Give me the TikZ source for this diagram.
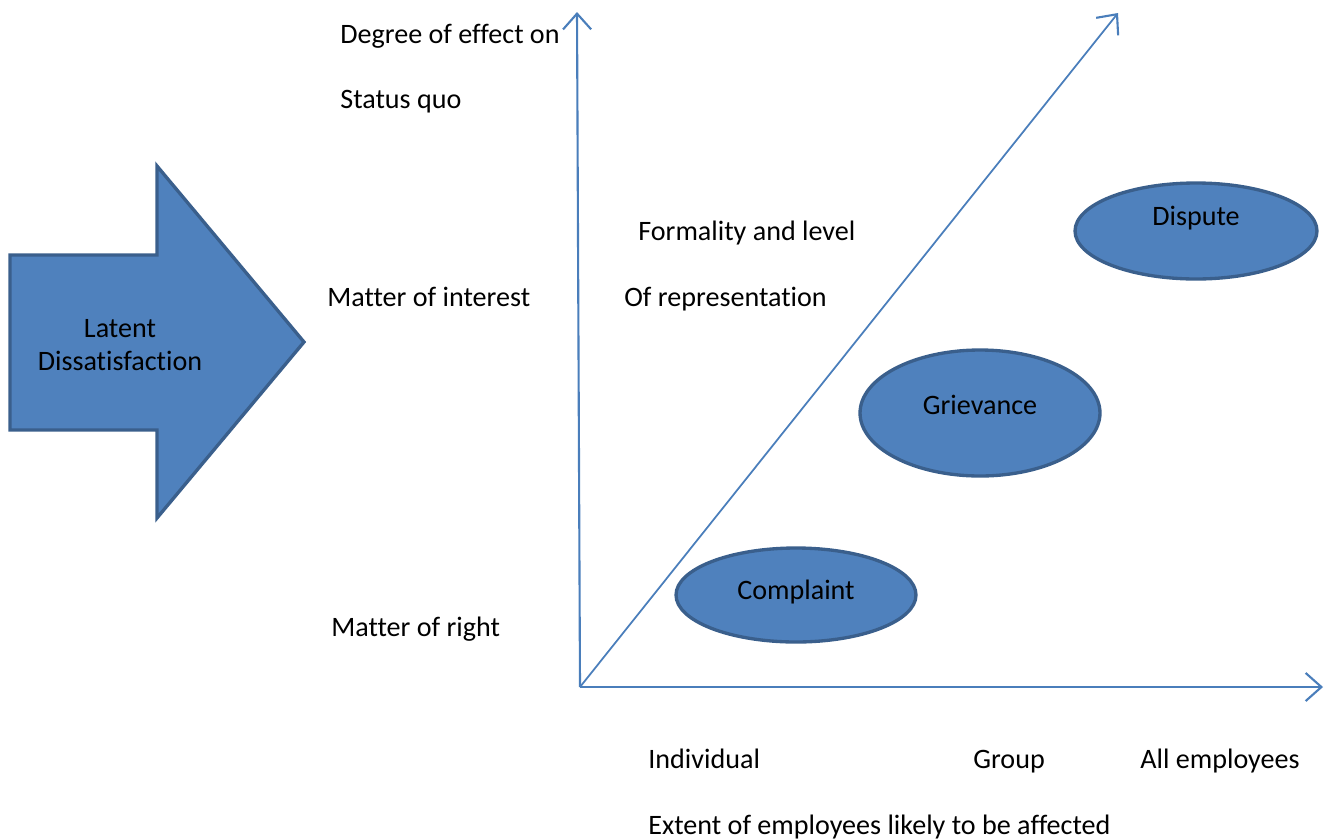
\documentclass[tikz,border=0pt]{standalone}
\usepackage{fontspec}
\setmainfont{Carlito}[Ligatures=NoCommon]
\usetikzlibrary{arrows.meta,shapes.geometric}

\definecolor{boxfill}{HTML}{4F81BD}
\definecolor{boxline}{HTML}{3A5F8C}
\definecolor{axisline}{HTML}{4A7EBB}

\tikzset{
	blob/.style={ellipse, draw=boxline, fill=boxfill, line width=1.9pt, inner sep=0pt},
	axis/.style={draw=axisline, line width=1.2pt, -{Straight Barb[length=9pt, width=16pt, line width=1.2pt]}},
	txt/.style={anchor=west, inner sep=0pt, text height=14.4pt, text depth=3.5pt,
		font=\fontsize{16}{19}\selectfont}
}

\begin{document}
\begin{tikzpicture}[x=0.02cm, y=-0.02cm]
	\useasboundingbox (0,0) rectangle (1325,839);
	
	% Draw big arrow
	\draw[boxline, fill=boxfill, line width=1.9pt, line join=miter]
		(10,255) -- (157,255) -- (157,166) -- (304,342) -- (157,518)
		-- (157,430) -- (10,430) -- cycle;
	\node[font=\fontsize{16}{19}\selectfont, align=center] (latent) at (120,345)
		{Latent\\Dissatisfaction};
	
	% Draw axes
	\coordinate (origin) at (580,687);
	\coordinate (ytop) at (577,12);
	\coordinate (xend) at (1323,687);
	\coordinate (dtop) at (1118,13);
	\draw[axis] (origin) -- (ytop);
	\draw[axis] (origin) -- (xend);
	\draw[axis, line width=1pt] (origin) -- (dtop);
	
	% Draw ellipses
	\node[blob, minimum width=4.8cm, minimum height=1.88cm] (complaint) at (796,595) {};
	\node[blob, minimum width=4.8cm, minimum height=2.52cm] (grievance) at (980,413) {};
	\node[blob, minimum width=4.84cm, minimum height=1.92cm] (dispute) at (1196,231) {};
	\node[font=\fontsize{16}{19}\selectfont] (complaintText) at (796,592) {Complaint};
	\node[font=\fontsize{16}{19}\selectfont] (grievanceText) at (980,405) {Grievance};
	\node[font=\fontsize{16}{19}\selectfont] (disputeText) at (1196,218) {Dispute};
	
	% Draw text
	\node[txt] (degree) at (340,34) {Degree of effect on};
	\node[txt] (status) at (340,99) {Status quo};
	\node[txt] (interest) at (327,297) {Matter of interest};
	\node[txt] (right) at (331,627) {Matter of right};
	\node[txt] (formality) at (638,231) {Formality and level};
	\node[txt] (representation) at (624,297) {Of representation};
	\node[txt] (individual) at (648,759) {Individual};
	\node[txt] (group) at (973,759) {Group};
	\node[txt] (allemp) at (1140,759) {All employees};
	\node[txt] (extent) at (648,825) {Extent of employees likely to be affected};
\end{tikzpicture}
\end{document}
